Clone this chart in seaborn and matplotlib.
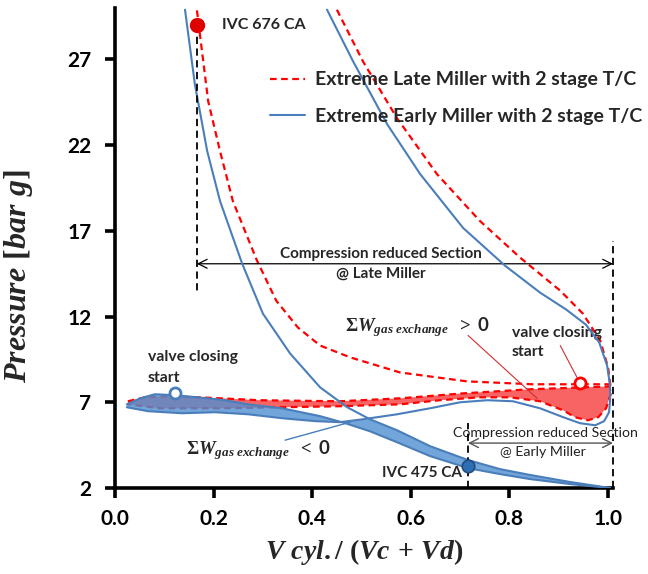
import numpy as np
import matplotlib
matplotlib.use('Agg')
import matplotlib.pyplot as plt
import seaborn as sns

# p-V gas exchange loops, x = V cyl./(Vc+Vd), y = pressure [bar g]
# Extreme Early Miller (blue, solid)
early_comp_v = [1.004, 0.923, 0.842, 0.781, 0.716, 0.639, 0.572, 0.517, 0.471, 0.416, 0.355, 0.300, 0.258, 0.213, 0.187, 0.162, 0.142]
early_comp_p = [2.00, 2.35, 2.76, 3.10, 3.63, 4.44, 5.37, 6.01, 6.71, 7.87, 9.85, 12.17, 15.08, 18.74, 21.65, 25.55, 29.9]
early_exp_v = [0.430, 0.483, 0.552, 0.619, 0.706, 0.791, 0.862, 0.915, 0.955, 0.982, 0.998, 1.004, 1.004]
early_exp_p = [29.9, 26.88, 23.22, 20.31, 17.17, 14.97, 13.40, 12.41, 11.53, 10.49, 9.15, 7.99, 7.12]
early_exh_v = [1.004, 1.002, 0.992, 0.974, 0.943, 0.909, 0.862, 0.807, 0.755, 0.700, 0.639, 0.572, 0.503, 0.456, 0.406, 0.339, 0.270, 0.203, 0.136, 0.067, 0.024]
early_exh_p = [7.12, 6.42, 5.90, 5.66, 5.78, 6.13, 6.65, 7.06, 7.12, 7.00, 6.65, 6.30, 6.01, 5.84, 5.90, 6.07, 6.30, 6.42, 6.36, 6.48, 6.71]
early_int_v = [0.024, 0.051, 0.081, 0.122, 0.168, 0.223, 0.270, 0.339, 0.416, 0.467, 0.517, 0.572, 0.639, 0.716, 0.781, 0.842, 0.923, 1.004]
early_int_p = [6.88, 7.23, 7.47, 7.41, 7.29, 7.12, 6.88, 6.65, 6.19, 5.78, 5.31, 4.67, 3.86, 3.16, 2.81, 2.52, 2.23, 2.00]

# Extreme Late Miller (red, dashed)
late_comp_v = [1.006, 0.943, 0.848, 0.714, 0.578, 0.477, 0.416, 0.371, 0.327, 0.288, 0.239, 0.213, 0.189, 0.166]
late_comp_p = [8.05, 8.05, 8.05, 8.22, 8.74, 9.62, 10.31, 11.36, 12.93, 15.26, 18.74, 21.65, 24.56, 29.9]
late_exp_v = [0.450, 0.503, 0.572, 0.653, 0.740, 0.822, 0.903, 0.949, 0.984, 1.000, 1.006]
late_exp_p = [29.9, 26.88, 23.57, 20.31, 17.58, 15.43, 13.51, 12.17, 10.60, 9.03, 7.70]
late_int_v = [0.026, 0.061, 0.101, 0.172, 0.294, 0.456, 0.578, 0.706, 0.842, 1.006]
late_int_p = [7.06, 7.29, 7.35, 7.29, 7.12, 7.06, 7.23, 7.52, 7.76, 7.93]
late_exh_v = [1.006, 0.996, 0.980, 0.959, 0.933, 0.909, 0.862, 0.801, 0.740, 0.659, 0.578, 0.456, 0.335, 0.213, 0.091, 0.026]
late_exh_p = [7.52, 6.65, 6.13, 5.95, 6.13, 6.53, 7.06, 7.29, 7.29, 7.12, 6.88, 6.77, 6.71, 6.65, 6.65, 6.88]

# markers
ivc_late = (0.166, 29.03)
ivc_early = (0.716, 3.28)
valve_early = (0.122, 7.52)
valve_late = (0.943, 8.10)

x_ticks = [0.0, 0.2, 0.4, 0.6, 0.8, 1.0]
y_ticks = [2, 7, 12, 17, 22, 27]

red = '#ff0000'
red_fill = '#f86464'
blue = '#4a7ebb'
blue_fill = '#4f8fd0'

sns.set_style('ticks')
plt.rcParams['font.family'] = ['Lato', 'DejaVu Sans']
plt.rcParams['font.weight'] = 'bold'
plt.rcParams['mathtext.fontset'] = 'custom'
plt.rcParams['mathtext.rm'] = 'Liberation Serif:bold'
plt.rcParams['mathtext.it'] = 'Liberation Serif:italic:bold'
plt.rcParams['mathtext.bf'] = 'Liberation Serif:bold'

fig = plt.figure(figsize=(6.48, 5.74), dpi=100)
ax = fig.add_axes([115 / 648, 86 / 574, 498 / 648, 480 / 574])

dash = (0, (3, 2))

# Late Miller loop fill + lines
ax.fill(np.concatenate([late_int_v, late_exh_v]), np.concatenate([late_int_p, late_exh_p]),
        color=red_fill, lw=0, zorder=1)
sns.lineplot(x=late_comp_v, y=late_comp_p, sort=False, estimator=None, color=red, lw=1.6,
             linestyle=dash, ax=ax, zorder=2, label='Extreme Late Miller with 2 stage T/C')
for xs, ys in [(late_exp_v, late_exp_p), (late_int_v, late_int_p), (late_exh_v, late_exh_p)]:
    sns.lineplot(x=xs, y=ys, sort=False, estimator=None, color=red, lw=1.6, linestyle=dash,
                 ax=ax, zorder=2, legend=False)

# Early Miller fill (loop + over-expansion band)
cv, cp = np.array(early_comp_v), np.array(early_comp_p)
ev, ep = np.array(early_exh_v), np.array(early_exh_p)
m1 = cv >= 0.51
m2 = ev <= 0.51
ax.fill(np.concatenate([early_int_v, cv[m1], ev[m2]]), np.concatenate([early_int_p, cp[m1], ep[m2]]),
        color=blue_fill, alpha=0.8, lw=0, zorder=3)
sns.lineplot(x=early_comp_v, y=early_comp_p, sort=False, estimator=None, color=blue, lw=1.5,
             ax=ax, zorder=4, label='Extreme Early Miller with 2 stage T/C')
for xs, ys in [(early_exp_v, early_exp_p), (early_exh_v, early_exh_p), (early_int_v, early_int_p)]:
    sns.lineplot(x=xs, y=ys, sort=False, estimator=None, color=blue, lw=1.5, ax=ax, zorder=4,
                 legend=False)

# IVC markers and reference lines
ax.plot([ivc_late[0], ivc_late[0]], [ivc_late[1], 13.5], color='black', lw=1.3, ls=(0, (4, 2.5)), zorder=5)
ax.plot([1.01, 1.01], [2, 16.4], color='black', lw=1.3, ls=(0, (4, 2.5)), zorder=5, clip_on=False)
ax.plot([ivc_early[0], ivc_early[0]], [2, 5.78], color='black', lw=1.3, ls=(0, (4, 2.5)), zorder=5)
ax.plot(*ivc_late, 'o', ms=10, color='#e00000', zorder=6)
ax.plot(*ivc_early, 'o', ms=9, mfc='#2f6eb5', mec='#1f4e79', mew=1.2, zorder=6)
ax.plot(*valve_early, 'o', ms=8, mfc='white', mec=blue, mew=2, zorder=6)
ax.plot(*valve_late, 'o', ms=8, mfc='white', mec=red, mew=2, zorder=6)

ax.text(0.217, ivc_late[1], 'IVC 676 CA', fontsize=11.5, va='center', ha='left')
ax.text(0.704, 2.87, 'IVC 475 CA', fontsize=11, va='center', ha='right')

# compression reduced sections
ax.annotate('', xy=(0.166, 15.08), xytext=(1.01, 15.08),
            arrowprops=dict(arrowstyle='<->', color='black', lw=0.9, mutation_scale=16,
                            shrinkA=0, shrinkB=0), annotation_clip=False)
ax.text(0.54, 15.66, 'Compression reduced Section', fontsize=11, ha='center', va='center')
ax.text(0.54, 14.5, '@ Late Miller', fontsize=11, ha='center', va='center')
ax.annotate('', xy=(0.716, 4.62), xytext=(1.01, 4.62),
            arrowprops=dict(arrowstyle='<->', color='#555555', lw=1.0, mutation_scale=16,
                            shrinkA=0, shrinkB=0), annotation_clip=False)
ax.text(0.872, 5.2, 'Compression reduced Section', fontsize=10.2, fontweight='normal',
        color='#222222', ha='center', va='center')
ax.text(0.868, 4.09, '@ Early Miller', fontsize=10.2, fontweight='normal',
        color='#222222', ha='center', va='center')

# valve closing notes
ax.text(0.067, 9.62, 'valve closing', fontsize=11.3, ha='left', va='center')
ax.text(0.067, 8.40, 'start', fontsize=11.3, ha='left', va='center')
ax.text(0.805, 11.07, 'valve closing', fontsize=11.3, ha='left', va='center')
ax.text(0.805, 9.91, 'start', fontsize=11.3, ha='left', va='center')
ax.plot([0.903, 0.937], [10.31, 8.45], color='#d03030', lw=0.8, zorder=5)

# gas exchange work labels
ax.text(0.467, 11.36, r'$\Sigma W_{gas\ exchange}$  $>$ 0', fontsize=13.5, ha='left', va='center')
ax.plot([0.716, 0.856], [10.9, 7.23], color='#d03030', lw=0.8, zorder=5)
ax.text(0.144, 4.2, r'$\Sigma W_{gas\ exchange}$  $<$ 0', fontsize=13.5, ha='left', va='center')
ax.plot([0.345, 0.477], [4.79, 5.84], color=blue, lw=1.0, zorder=5)

# axes styling
ax.set_xlim(0, 1.01)
ax.set_ylim(2, 30)
ax.set_xticks(x_ticks)
ax.set_xticklabels([f'{t:.1f}' for t in x_ticks])
ax.set_yticks(y_ticks)
sns.despine(ax=ax)
for s in ['left', 'bottom']:
    ax.spines[s].set_linewidth(2.6)
    ax.spines[s].set_color('black')
ax.tick_params(axis='both', direction='out', length=7, width=2.6, labelsize=15, colors='black')
ax.tick_params(axis='y', pad=10)
ax.tick_params(axis='x', pad=8)

ax.set_ylabel(r'$Pressure\ [bar\ g]$', fontsize=23)
ax.yaxis.set_label_coords(-0.161, 0.442)
ax.set_xlabel(r'$V\ cyl./\ (Vc\,+\,Vd)$', fontsize=20)
ax.xaxis.label.set_va('center')
ax.xaxis.set_label_coords(0.5, -0.134)

ax.legend(loc='upper left', bbox_to_anchor=(0.311, 0.868), frameon=False, borderpad=0,
          borderaxespad=0, handlelength=1.8, handletextpad=0.52, labelspacing=1.0,
          prop={'family': 'Lato', 'weight': 'bold', 'size': 14})

fig.savefig('out.png', dpi=100)
